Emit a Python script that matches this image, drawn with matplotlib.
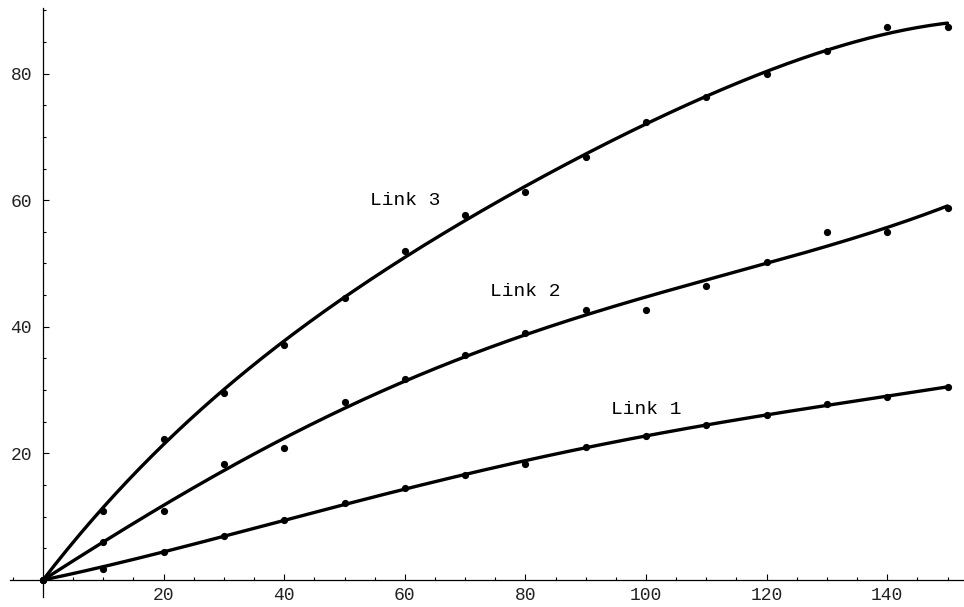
import numpy as np
import matplotlib
matplotlib.use("Agg")
import matplotlib.pyplot as plt
from matplotlib.ticker import MultipleLocator, FixedLocator

# -------------------------------
# data
# -------------------------------
x_vals = [0, 10, 20, 30, 40, 50, 60, 70, 80, 90, 100, 110, 120, 130, 140, 150]
link1 = [0, 1.7, 4.4, 6.9, 9.5, 12.2, 14.6, 16.6, 18.3, 21.0, 22.8, 24.5, 26.1, 27.8, 28.9, 30.5]
link2 = [0, 6.0, 10.9, 18.3, 20.9, 28.1, 31.8, 35.5, 39.0, 42.7, 42.7, 46.4, 50.2, 55.0, 55.0, 58.8]
link3 = [0, 10.9, 22.3, 29.6, 37.1, 44.6, 52.0, 57.6, 61.3, 66.9, 72.3, 76.3, 80.0, 83.6, 87.4, 87.4]

series = [("Link 1", link1, (100, 27)),
          ("Link 2", link2, (80, 45.5)),
          ("Link 3", link3, (60, 60))]

font = "Liberation Mono"

# pixel layout of the original: origin at (43, 580), 6.03 px per x unit, 6.33 px per y unit
W, H = 964, 607
x0_px, y0_px = 43, 580
sx, sy = 6.03, 6.33

fig = plt.figure(figsize=(W / 100, H / 100), dpi=100)
ax = fig.add_axes([0, 0, 1, 1])
ax.set_xlim(-x0_px / sx, (W - x0_px) / sx)
ax.set_ylim(-(H - y0_px) / sy, y0_px / sy)

x = np.array(x_vals, dtype=float)
xs = np.linspace(0, 150, 300)

for name, vals, (lx, ly) in series:
    y = np.array(vals, dtype=float)
    # least squares fit through the origin: x, x^2, x^3, x^4
    A = np.column_stack([x**k for k in range(1, 5)])
    coef, *_ = np.linalg.lstsq(A, y, rcond=None)
    ys = sum(c * xs**k for k, c in enumerate(coef, start=1))
    ax.plot(xs, ys, color="black", linewidth=2.4, solid_capstyle="round")
    ax.plot(x, y, "o", color="black", markersize=5.2, markeredgewidth=0)
    ax.text(lx, ly, name, fontsize=14, family=font, ha="center", va="center")

# Mathematica-like axes crossing at the origin
for side in ["top", "right"]:
    ax.spines[side].set_visible(False)
ax.spines["left"].set_position(("data", 0))
ax.spines["bottom"].set_position(("data", 0))
ax.spines["left"].set_bounds(-2.7, 90.3)
ax.spines["bottom"].set_bounds(-5.5, 153)
for side in ["left", "bottom"]:
    ax.spines[side].set_linewidth(0.9)

ax.xaxis.set_major_locator(FixedLocator([20, 40, 60, 80, 100, 120, 140]))
ax.yaxis.set_major_locator(FixedLocator([20, 40, 60, 80]))
ax.xaxis.set_minor_locator(MultipleLocator(5))
ax.yaxis.set_minor_locator(FixedLocator(np.arange(5, 91, 5)))

ax.tick_params(which="both", direction="in", width=0.8, colors="black")
ax.tick_params(which="major", length=4.5)
ax.tick_params(which="minor", length=2.2)
ax.tick_params(axis="x", which="major", pad=5)
ax.tick_params(axis="y", which="major", pad=8)

for lab in ax.get_xticklabels() + ax.get_yticklabels():
    lab.set_family(font)
    lab.set_fontsize(13)
    lab.set_color("#222222")

ax.patch.set_alpha(0)
fig.savefig("out.png", dpi=100)
